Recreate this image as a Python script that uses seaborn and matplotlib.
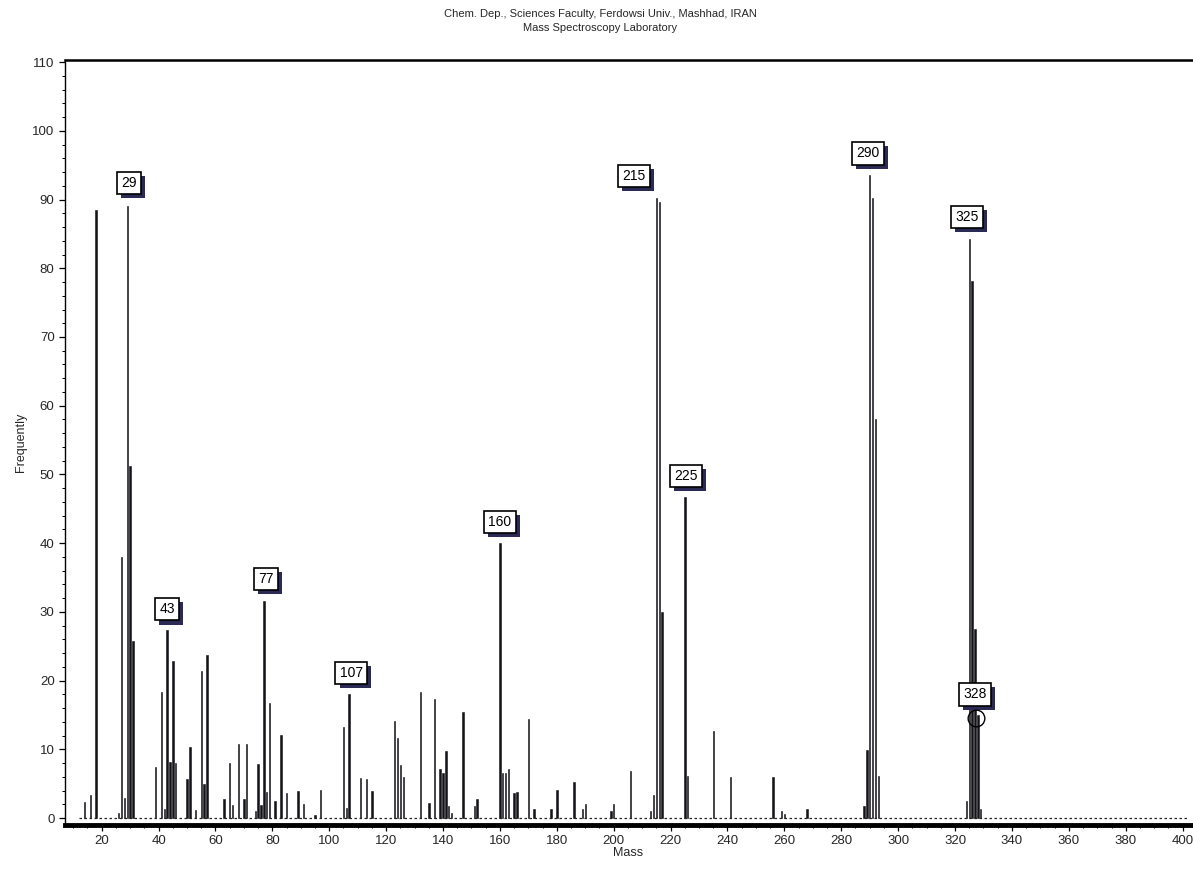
import numpy as np
import pandas as pd
import matplotlib
matplotlib.use("Agg")
import matplotlib.pyplot as plt
import matplotlib.patheffects as pe
from matplotlib.ticker import MultipleLocator
import seaborn as sns

# ---------------- data ----------------
mass = [14, 16, 18, 26, 27, 28, 29, 30, 31,
        39, 41, 42, 43, 44, 45, 46, 50, 51, 53, 55, 56, 57,
        63, 65, 66, 68, 70, 71, 74, 75, 76, 77, 78, 79, 81, 83, 85, 89, 91, 95, 97,
        105, 106, 107, 111, 113, 115, 123, 124, 125, 126,
        132, 135, 137, 139, 140, 141, 142, 143, 147, 151, 152,
        160, 161, 162, 163, 165, 166, 170, 172, 178, 180, 186, 189, 190,
        199, 200, 206, 213, 214, 215, 216, 217, 225, 226, 235, 241,
        256, 259, 260, 268, 288, 289, 290, 291, 292, 293,
        324, 325, 326, 327, 328, 329]
intensity = [2.4, 3.4, 88.5, 0.7, 38.0, 3.0, 89.0, 51.3, 25.8,
             7.5, 18.4, 1.3, 27.3, 8.2, 22.8, 8.0, 5.7, 10.3, 1.2, 21.4, 4.9, 23.7,
             2.8, 8.0, 1.9, 10.8, 2.8, 10.8, 1.0, 7.9, 1.9, 31.6, 3.8, 16.7, 2.5, 12.1, 3.7, 3.9, 2.0, 0.5, 4.1,
             13.3, 1.5, 18.0, 5.9, 5.7, 3.9, 14.2, 11.6, 7.7, 6.0,
             18.4, 2.2, 17.4, 7.1, 6.5, 9.8, 1.8, 0.8, 15.4, 1.8, 2.8,
             40.0, 6.5, 6.6, 7.1, 3.6, 3.8, 14.4, 1.4, 1.4, 4.1, 5.2, 1.3, 2.0,
             1.0, 2.1, 6.9, 1.1, 3.3, 90.2, 89.6, 30.0, 46.7, 6.1, 12.7, 6.0,
             6.0, 1.1, 0.6, 1.3, 1.8, 9.9, 93.6, 90.2, 58.0, 6.1,
             2.5, 84.3, 78.2, 27.5, 15.0, 1.3]

label_text = ["29", "43", "77", "107", "160", "215", "225", "290", "325", "328"]
label_x = [29.5, 43.0, 77.8, 107.7, 160.0, 207.1, 225.4, 289.3, 324.2, 327.0]
label_y = [92.4, 30.4, 34.8, 21.1, 43.1, 93.4, 49.8, 96.7, 87.5, 18.0]

title_lines = ["Chem. Dep., Sciences Faculty, Ferdowsi Univ., Mashhad, IRAN",
               "Mass Spectroscopy Laboratory"]
x_title = "Mass"
y_title = "Frequently"
x_ticks = list(range(20, 401, 20))
y_ticks = list(range(0, 111, 10))

df = pd.DataFrame({"Mass": mass, "Intensity": intensity})

# ---------------- figure ----------------
sns.set_theme(style="white")
plt.rcParams["font.family"] = ["Liberation Sans", "DejaVu Sans"]

fig = plt.figure(figsize=(11.93, 8.73), dpi=100)
ax = fig.add_axes([65 / 1193, 48 / 873, (1192 - 65) / 1193, (825 - 60) / 873])

sns.barplot(data=df, x="Mass", y="Intensity", native_scale=True, width=0.5,
            color="#141418", saturation=1, edgecolor="#141418", linewidth=0.4, ax=ax)

# noisy dotted baseline
ax.plot([12, 402], [0, 0], color="#222222", lw=0.9, ls=(0, (2, 2)), zorder=1)

ax.set_xlim(7.1, 403.3)
ax.set_ylim(-1.0, 110.3)
ax.set_xticks(x_ticks)
ax.set_yticks(y_ticks)
ax.xaxis.set_minor_locator(MultipleLocator(5))
ax.yaxis.set_minor_locator(MultipleLocator(2))
ax.tick_params(axis="both", which="major", direction="out", length=4, width=0.9,
               color="black", labelsize=9.5, bottom=True, left=True)
ax.tick_params(axis="both", which="minor", direction="out", length=2.5, width=0.7,
               color="black", bottom=True, left=True)
ax.set_xlabel(x_title, fontsize=9, labelpad=0)
ax.set_ylabel(y_title, fontsize=9, labelpad=4)
ax.grid(False)

ax.spines["left"].set_linewidth(1.0)
ax.spines["top"].set_linewidth(1.8)
ax.spines["bottom"].set_linewidth(3.5)
ax.spines["right"].set_visible(False)
for s in ax.spines.values():
    s.set_color("black")

# peak labels: boxed text with a dark drop shadow on the box
for t, lx, ly in zip(label_text, label_x, label_y):
    txt = ax.text(lx, ly, t, ha="center", va="center", fontsize=10, color="black",
                  bbox=dict(boxstyle="square,pad=0.3", fc="white", ec="black", lw=1.2),
                  zorder=5)
    txt.get_bbox_patch().set_path_effects([
        pe.SimplePatchShadow(offset=(3, -3), shadow_rgbFace="#2a2a55", alpha=1.0),
        pe.Normal()])

# circle around the 328 peak
ax.plot([327.4], [14.6], marker="o", markersize=12, markerfacecolor="none",
        markeredgecolor="black", markeredgewidth=1.0, zorder=6)

fig.text(0.503, 1 - 14 / 873, title_lines[0], ha="center", va="center", fontsize=8)
fig.text(0.503, 1 - 28 / 873, title_lines[1], ha="center", va="center", fontsize=8)

fig.savefig("out.png", dpi=100, facecolor="white")
